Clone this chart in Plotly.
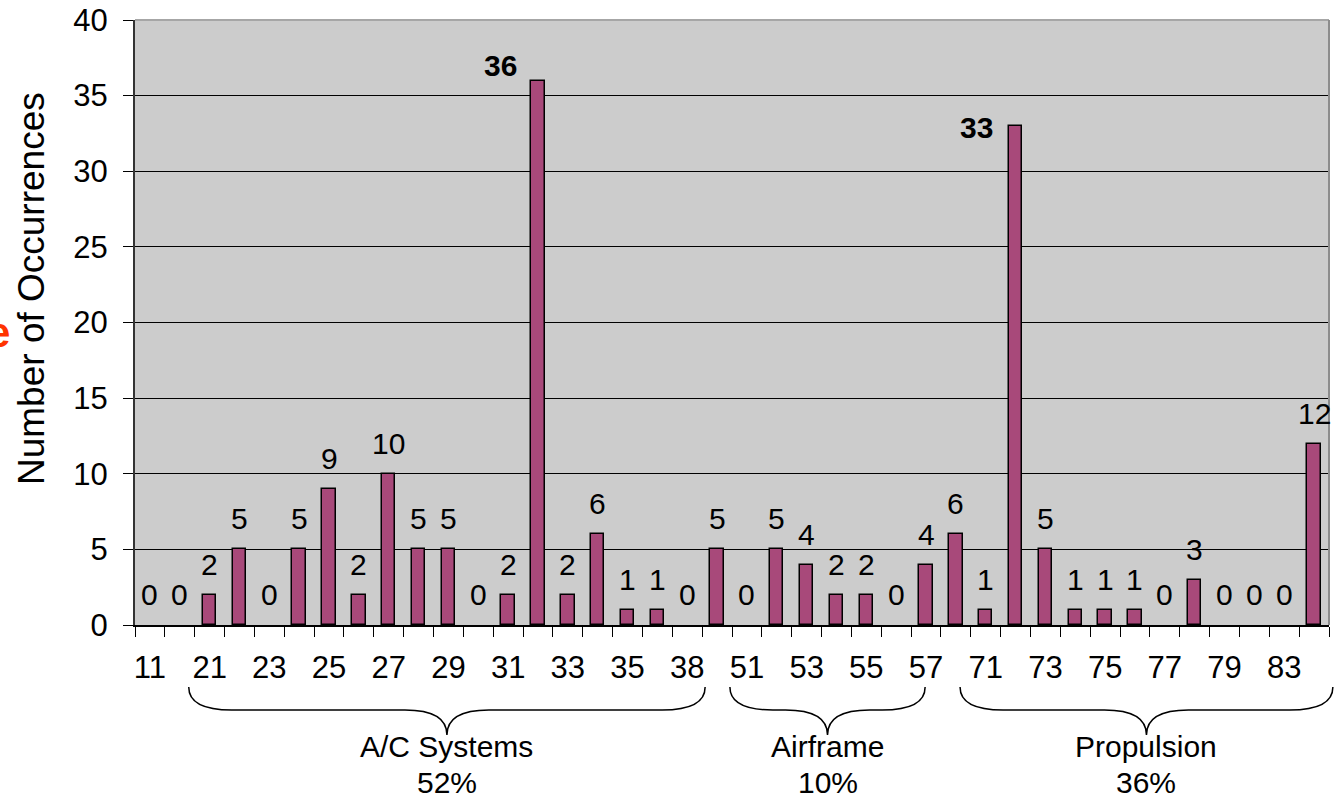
import plotly.graph_objects as go

# ---------------- data ----------------
categories = ["11", "12", "21", "22", "23", "24", "25", "26", "27", "28",
              "29", "30", "31", "32", "33", "34", "35", "36", "38", "49",
              "51", "52", "53", "54", "55", "56", "57", "61", "71", "72",
              "73", "74", "75", "76", "77", "78", "79", "80", "83", "85"]
occurrences = [0, 0, 2, 5, 0, 5, 9, 2, 10, 5,
               5, 0, 2, 36, 2, 6, 1, 1, 0, 5,
               0, 5, 4, 2, 2, 0, 4, 6, 1, 33,
               5, 1, 1, 1, 0, 3, 0, 0, 0, 12]
shown_tick_labels = categories[0::2]
group_names = ["A/C Systems", "Airframe", "Propulsion"]
group_shares = ["52%", "10%", "36%"]
highlighted = ["32", "72"]  # categories whose labels are bold

# ---------------- layout constants ----------------
W, H = 1344, 798
ML, MR, MT, MB = 135, 15, 20, 173
PW = W - ML - MR
PH = H - MT - MB
FONT = "Liberation Sans, Arial, sans-serif"
BAR_COLOR = "#A8497A"
N = len(categories)
xs = list(range(N))


def px_to_paper_x(px):
    return (px - ML) / PW


def px_to_paper_y(py):
    return (H - MB - py) / PH


def idx_to_paper(i):
    return (i + 0.5) / N


fig = go.Figure()
fig.add_trace(go.Bar(
    x=xs, y=occurrences, width=0.45,
    marker=dict(color=BAR_COLOR,
                line=dict(color="black", width=[1.5 if v > 0 else 0 for v in occurrences])),
    hoverinfo="x+y",
))

annotations = []
# value labels
label_offsets = {"32": (-37, -3), "72": (-39, -20)}
for i, (c, v) in enumerate(zip(categories, occurrences)):
    bold = c in highlighted
    xshift, yshift = label_offsets.get(c, (0, 12))
    annotations.append(dict(
        x=i, y=v, xref="x", yref="y", text=("<b>%d</b>" % v) if bold else str(v),
        showarrow=False, yanchor="bottom", xanchor="center",
        xshift=xshift, yshift=yshift,
        font=dict(family=FONT, size=30, color="black"),
    ))

# y-axis title (placed as annotation to match position)
annotations.append(dict(
    x=px_to_paper_x(31), y=px_to_paper_y(289), xref="paper", yref="paper",
    text="Number of Occurrences", textangle=-90, showarrow=False,
    xanchor="center", yanchor="middle",
    font=dict(family=FONT, size=37, color="black"),
))
# clipped red letter at the far left
annotations.append(dict(
    x=px_to_paper_x(12), y=px_to_paper_y(333), xref="paper", yref="paper",
    text="<b>e</b>", showarrow=False, xanchor="right", yanchor="middle",
    font=dict(family=FONT, size=42, color="#FF3300"),
))

# braces grouping categories
brace_spans = [(1.30, 18.60), (19.43, 25.97), (27.14, 39.63)]
y_top = px_to_paper_y(687)
y_mid = px_to_paper_y(710)
y_tip = px_to_paper_y(735)
dx_end = 43 / PW
dx_mid = 42 / PW
shapes = []
for (a, b), name, share in zip(brace_spans, group_names, group_shares):
    x0, x1 = idx_to_paper(a), idx_to_paper(b)
    xm = (x0 + x1) / 2
    path = (
        f"M {x0},{y_top} Q {x0},{y_mid} {x0 + dx_end},{y_mid} "
        f"L {xm - dx_mid},{y_mid} Q {xm},{y_mid} {xm},{y_tip} "
        f"Q {xm},{y_mid} {xm + dx_mid},{y_mid} "
        f"L {x1 - dx_end},{y_mid} Q {x1},{y_mid} {x1},{y_top}"
    )
    shapes.append(dict(type="path", path=path, xref="paper", yref="paper",
                       line=dict(color="black", width=1.5)))
    annotations.append(dict(
        x=xm, y=px_to_paper_y(747), xref="paper", yref="paper",
        text=name, showarrow=False, xanchor="center", yanchor="middle",
        font=dict(family=FONT, size=30, color="black"),
    ))
    annotations.append(dict(
        x=xm, y=px_to_paper_y(782), xref="paper", yref="paper",
        text=share, showarrow=False, xanchor="center", yanchor="middle",
        font=dict(family=FONT, size=30, color="black"),
    ))

# top and right plot borders (gray)
shapes.append(dict(type="line", xref="paper", yref="paper", x0=0, x1=1, y0=1, y1=1,
                   line=dict(color="#A6A6A6", width=2)))
shapes.append(dict(type="line", xref="paper", yref="paper", x0=1, x1=1, y0=0, y1=1,
                   line=dict(color="#8C8C8C", width=2)))

fig.update_layout(
    width=W, height=H,
    margin=dict(l=ML, r=MR, t=MT, b=MB, pad=0, autoexpand=False),
    paper_bgcolor="white", plot_bgcolor="#CCCCCC",
    showlegend=False,
    bargap=0,
    font=dict(family=FONT, color="black"),
    annotations=annotations, shapes=shapes,
    xaxis=dict(
        range=[-0.5, N - 0.5], tickmode="array",
        tickvals=xs[0::2], ticktext=shown_tick_labels,
        ticks="", showgrid=False, zeroline=False,
        showline=True, linecolor="black", linewidth=1.5,
        tickfont=dict(family=FONT, size=31, color="black"),
        ticklabelstandoff=14, automargin=False,
        minor=dict(tickmode="linear", tick0=-0.5, dtick=1, ticks="outside",
                   ticklen=10, tickwidth=1, tickcolor="black", showgrid=False),
        fixedrange=True,
    ),
    yaxis=dict(
        range=[0, 40], tickmode="linear", tick0=0, dtick=5,
        ticks="outside", ticklen=10, tickwidth=1, tickcolor="black",
        showgrid=True, gridcolor="black", gridwidth=1, zeroline=False,
        showline=True, linecolor="#333333", linewidth=2,
        tickfont=dict(family=FONT, size=31, color="black"),
        ticklabelstandoff=9, automargin=False,
        fixedrange=True,
    ),
)

fig.write_html(
    "out.html",
    config={"displayModeBar": False},
    post_script="document.body.style.margin='0';document.body.style.overflow='hidden';",
)
